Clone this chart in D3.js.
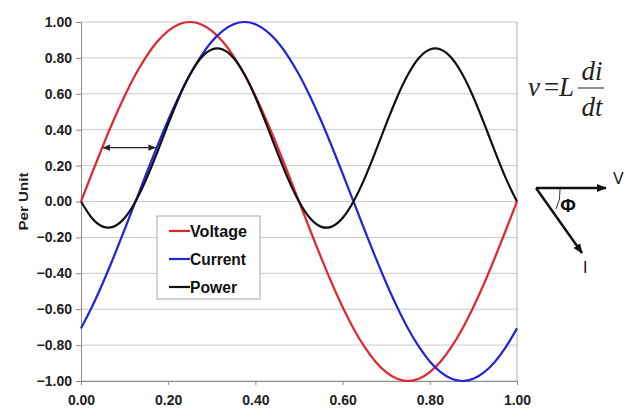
<!DOCTYPE html>
<html>
<head>
<meta charset="utf-8">
<script src="https://cdn.jsdelivr.net/npm/d3@7"></script>
<style>
  body { margin: 0; background: #fff; }
  svg text { font-family: Arial, "Liberation Sans", sans-serif; }
  svg text.serif { font-family: "Liberation Serif", "Times New Roman", serif; }
</style>
</head>
<body>
<svg id="plot" width="627" height="416"></svg>
<script>
// data (time in per-unit of one cycle)
var timeVals = [0, 0.025, 0.05, 0.075, 0.1, 0.125, 0.15, 0.175, 0.2, 0.225,
  0.25, 0.275, 0.3, 0.325, 0.35, 0.375, 0.4, 0.425, 0.45, 0.475,
  0.5, 0.525, 0.55, 0.575, 0.6, 0.625, 0.65, 0.675, 0.7, 0.725,
  0.75, 0.775, 0.8, 0.825, 0.85, 0.875, 0.9, 0.925, 0.95, 0.975, 1];

var voltage = [0, .156, .309, .454, .588, .707, .809, .891, .951, .988,
  1, .988, .951, .891, .809, .707, .588, .454, .309, .156,
  0, -.156, -.309, -.454, -.588, -.707, -.809, -.891, -.951, -.988,
  -1, -.988, -.951, -.891, -.809, -.707, -.588, -.454, -.309, -.156, 0];

var current = [-.707, -.588, -.454, -.309, -.156, 0, .156, .309, .454, .588,
  .707, .809, .891, .951, .988, 1, .988, .951, .891, .809,
  .707, .588, .454, .309, .156, 0, -.156, -.309, -.454, -.588,
  -.707, -.809, -.891, -.951, -.988, -1, -.988, -.951, -.891, -.809, -.707];

var power = [0, -.092, -.140, -.140, -.092, 0, .126, .275, .432, .581,
  .707, .799, .847, .847, .799, .707, .581, .432, .275, .126,
  0, -.092, -.140, -.140, -.092, 0, .126, .275, .432, .581,
  .707, .799, .847, .847, .799, .707, .581, .432, .275, .126, 0];

var seriesNames = ["Voltage", "Current", "Power"];
var seriesData = [voltage, current, power];
var colors = ["#e3262e", "#2323dc", "#111111"];

var xTicks = [0, 0.2, 0.4, 0.6, 0.8, 1.0];
var yTicks = [-1, -0.8, -0.6, -0.4, -0.2, 0, 0.2, 0.4, 0.6, 0.8, 1.0];

// phase-shift arrow between voltage and current at 0.30
var shiftArrow = [[0.0485, 0.3], [0.1735, 0.3]];

var plotLeft = 81, plotRight = 517, plotTop = 22, plotBottom = 381;

var svg = d3.select("#plot");

var xScale = d3.scaleLinear().domain([0, 1]).range([plotLeft, plotRight]);
var yScale = d3.scaleLinear().domain([-1, 1]).range([plotBottom, plotTop]);

var defs = svg.append("defs");
defs.append("marker")
  .attr("id", "head")
  .attr("viewBox", "0 0 10 10")
  .attr("refX", 9).attr("refY", 5)
  .attr("markerWidth", 8).attr("markerHeight", 8)
  .attr("markerUnits", "userSpaceOnUse")
  .attr("orient", "auto-start-reverse")
  .append("path")
  .attr("d", "M0,1 L10,5 L0,9 Z")
  .attr("fill", "#222");
defs.append("marker")
  .attr("id", "bighead")
  .attr("viewBox", "0 0 10 10")
  .attr("refX", 9).attr("refY", 5)
  .attr("markerWidth", 10).attr("markerHeight", 10)
  .attr("markerUnits", "userSpaceOnUse")
  .attr("orient", "auto")
  .append("path")
  .attr("d", "M0,1 L10,5 L0,9 Z")
  .attr("fill", "#111");

// horizontal gridlines
svg.append("g")
  .selectAll("line")
  .data(yTicks)
  .enter()
  .append("line")
  .attr("x1", plotLeft).attr("x2", plotRight)
  .attr("y1", function(d) { return yScale(d); })
  .attr("y2", function(d) { return yScale(d); })
  .attr("stroke", "#c9c9c9")
  .attr("stroke-width", 1);

// right border
svg.append("line")
  .attr("x1", plotRight).attr("x2", plotRight)
  .attr("y1", plotTop).attr("y2", plotBottom)
  .attr("stroke", "#b0b0b0");

// axes
var yAxis = d3.axisLeft(yScale)
  .tickValues(yTicks)
  .tickSize(5)
  .tickFormat(d3.format(".2f"));
var xAxis = d3.axisBottom(xScale)
  .tickValues(xTicks)
  .tickSize(4)
  .tickFormat(d3.format(".2f"));

var gy = svg.append("g")
  .attr("transform", "translate(" + plotLeft + ",0)")
  .call(yAxis);
var gx = svg.append("g")
  .attr("transform", "translate(0," + plotBottom + ")")
  .call(xAxis);

[gx, gy].forEach(function(g) {
  g.select(".domain").attr("stroke", "#8a8a8a");
  g.selectAll(".tick line").attr("stroke", "#8a8a8a");
  g.selectAll("text")
    .attr("font-size", "14px")
    .attr("font-weight", "bold")
    .attr("fill", "#222");
});
gy.selectAll("text").attr("x", -9);
gx.selectAll("text").attr("y", 14);

// axis title
svg.append("text")
  .attr("transform", "translate(28," + yScale(0) + ") rotate(-90)")
  .attr("text-anchor", "middle")
  .attr("font-size", "13px")
  .attr("font-weight", "bold")
  .attr("fill", "#222")
  .attr("textLength", 58)
  .attr("lengthAdjust", "spacingAndGlyphs")
  .text("Per Unit");

// series lines
var line = d3.line()
  .x(function(d, i) { return xScale(timeVals[i]); })
  .y(function(d) { return yScale(d); })
  .curve(d3.curveNatural);

svg.append("g")
  .selectAll("path")
  .data(seriesData)
  .enter()
  .append("path")
  .attr("d", line)
  .attr("fill", "none")
  .attr("stroke", function(d, i) { return colors[i]; })
  .attr("stroke-width", 2.2);

// double arrow showing the phase shift
svg.append("line")
  .attr("x1", xScale(shiftArrow[0][0]) + 1)
  .attr("y1", yScale(shiftArrow[0][1]))
  .attr("x2", xScale(shiftArrow[1][0]) - 1)
  .attr("y2", yScale(shiftArrow[1][1]))
  .attr("stroke", "#222")
  .attr("stroke-width", 1.2)
  .attr("marker-start", "url(#head)")
  .attr("marker-end", "url(#head)");

// legend
var legendWidths = [57, 56, 47];
var legend = svg.append("g").attr("transform", "translate(157,216)");
legend.append("rect")
  .attr("width", 103).attr("height", 83)
  .attr("fill", "#fff")
  .attr("stroke", "#a8a8a8");
var items = legend.selectAll("g.item")
  .data(seriesNames)
  .enter()
  .append("g")
  .attr("class", "item")
  .attr("transform", function(d, i) { return "translate(0," + (15 + i * 28) + ")"; });
items.append("line")
  .attr("x1", 12).attr("x2", 33)
  .attr("stroke", function(d, i) { return colors[i]; })
  .attr("stroke-width", 2.2);
items.append("text")
  .attr("x", 33).attr("y", 6)
  .attr("font-size", "16px")
  .attr("font-weight", "bold")
  .attr("fill", "#111")
  .attr("textLength", function(d, i) { return legendWidths[i]; })
  .attr("lengthAdjust", "spacingAndGlyphs")
  .text(function(d) { return d; });

// formula v = L di/dt
var f = svg.append("g")
  .attr("font-size", "27px")
  .attr("fill", "#222");
f.append("text").attr("class", "serif").attr("x", 528).attr("y", 96).attr("font-style", "italic").text("v");
f.append("text").attr("class", "serif").attr("x", 544).attr("y", 96).text("=");
f.append("text").attr("class", "serif").attr("x", 559).attr("y", 96).attr("font-style", "italic").text("L");
f.append("text").attr("class", "serif").attr("x", 592).attr("y", 80).attr("text-anchor", "middle").attr("font-style", "italic").text("di");
f.append("line").attr("x1", 578).attr("x2", 604).attr("y1", 88).attr("y2", 88)
  .attr("stroke", "#444").attr("stroke-width", 1.2);
f.append("text").attr("class", "serif").attr("x", 592).attr("y", 116).attr("text-anchor", "middle").attr("font-style", "italic").text("dt");

// phasor diagram
var ph = svg.append("g");
ph.append("line")
  .attr("x1", 536).attr("y1", 188).attr("x2", 606).attr("y2", 188)
  .attr("stroke", "#111").attr("stroke-width", 2.5)
  .attr("marker-end", "url(#bighead)");
ph.append("line")
  .attr("x1", 536).attr("y1", 188).attr("x2", 582).attr("y2", 253)
  .attr("stroke", "#111").attr("stroke-width", 2.5)
  .attr("marker-end", "url(#bighead)");
ph.append("path")
  .attr("d", "M560,189 Q561,199 556,209")
  .attr("fill", "none")
  .attr("stroke", "#333")
  .attr("stroke-width", 1);
ph.append("text")
  .attr("x", 568).attr("y", 212)
  .attr("text-anchor", "middle")
  .attr("font-size", "19px")
  .attr("font-weight", "bold")
  .attr("fill", "#111")
  .text("Φ");
ph.append("text")
  .attr("x", 613).attr("y", 184)
  .attr("font-size", "16px")
  .attr("fill", "#111")
  .text("V");
ph.append("text")
  .attr("x", 583).attr("y", 273)
  .attr("font-size", "16px")
  .attr("fill", "#111")
  .text("I");
</script>
</body>
</html>
